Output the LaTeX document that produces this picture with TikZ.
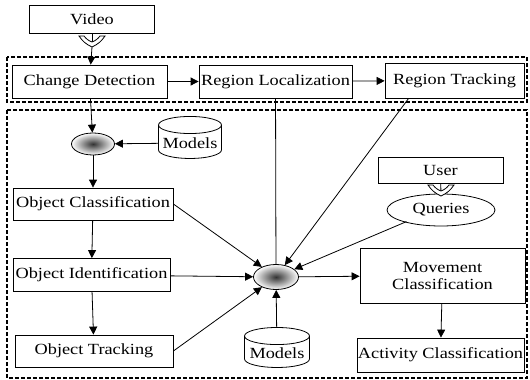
\documentclass[tikz,border=0pt]{standalone}
\usepackage{fontspec}
\setmainfont{Liberation Serif}[FakeStretch=1.18]
\usepackage{tikz}
\usetikzlibrary{arrows.meta,shapes.geometric}

% hollow fork tip, point at #1
\newcommand{\forkat}[1]{%
\draw[thick,fill=white,shift={(#1)}] (-13,-11) to[bend right=15] (0,0)
  to[bend right=15] (13,-11) -- (8,-11) to[bend left=15] (0,-5)
  to[bend left=15] (-8,-11) -- cycle;}

\begin{document}
\begin{tikzpicture}[x=1pt,y=-1pt,
font=\fontsize{15.5}{17}\selectfont,
box/.style={draw,thick,inner sep=1pt},
hub/.style={ellipse,draw,thick,inner sep=0pt,
  inner color=black!80,outer color=white},
db/.style={cylinder,draw,thick,shape border rotate=90,aspect=0.3,
  inner sep=1pt,minimum width=63pt,minimum height=42pt},
arr/.style={thick,-{Triangle[length=8pt,width=8pt]}},
group/.style={draw,line width=1.8pt,dash pattern=on 4pt off 2pt}]
\useasboundingbox (0,0) rectangle (530,380);

% dashed groups
\draw[group] (7,57) rectangle (527,102);
\draw[group] (7,110) rectangle (527,378);

% top row
\node[box,minimum width=125pt,minimum height=28pt] (video) at (92,19) {Video};
\node[box,minimum width=155pt,minimum height=33pt] (chgdet) at (89.5,81.5) {Change Detection};
\node[box,minimum width=153pt,minimum height=33pt] (regloc) at (275.5,81.5) {Region Localization};
\node[box,minimum width=139pt,minimum height=35pt] (regtrk) at (454.5,80.5) {Region Tracking};

% object branch
\node[hub,minimum width=43pt,minimum height=22pt] (hubA) at (93,144) {};
\node[db] (modelsA) at (190,143) {Models};
\node[box,minimum width=160pt,minimum height=32pt] (objcls) at (93,204) {Object Classification};
\node[box,minimum width=157pt,minimum height=33pt] (objid) at (91.5,275) {Object Identification};
\node[box,minimum width=158pt,minimum height=32pt] (objtrk) at (94,351) {Object Tracking};

% fusion
\node[hub,minimum width=45pt,minimum height=25pt] (hubB) at (276,277) {};
\node[db,minimum width=65pt,minimum height=40pt] (modelsB) at (277,353) {Models};

% user side
\node[box,minimum width=125pt,minimum height=26pt] (user) at (440.5,170) {User};
\node[ellipse,draw,thick,minimum width=108pt,minimum height=32pt,inner sep=0pt] (queries) at (441,210) {Queries};
\node[box,minimum width=165pt,minimum height=55pt,align=center] (movcls) at (442.5,275.5) {Movement\\Classification};
\node[box,minimum width=165pt,minimum height=34pt] (actcls) at (440.5,355) {Activity Classification};

% video and user inputs
\coordinate (vfork) at (92,47);
\coordinate (ufork) at (441,196);
\draw[thick] (video) -- (vfork);
\draw[arr] (vfork) -- (chgdet);
\forkat{vfork}
\draw[thick] (user) -- (ufork);
\forkat{ufork}

\draw[arr] (chgdet) -- (regloc);
\draw[arr] (regloc) -- (regtrk);
\draw[arr] (chgdet) -- (hubA);
\draw[arr] (modelsA) -- (hubA);
\draw[arr] (hubA) -- (objcls);
\draw[arr] (objcls) -- (objid);
\draw[arr] (objid) -- (objtrk);

\draw[thick] (regloc) -- (hubB);
\draw[arr] (objcls.east) -- (hubB);
\draw[arr] (objid) -- (hubB);
\draw[arr] (objtrk.east) -- (hubB);
\draw[arr] (regtrk.south west) ++(24,0) -- (hubB);
\draw[arr] (queries.south west) ++(4,0) -- (hubB);
\draw[arr] (modelsB) -- (hubB);
\draw[arr] (hubB) -- (movcls);
\draw[arr] (movcls) -- (actcls);
\end{tikzpicture}
\end{document}
